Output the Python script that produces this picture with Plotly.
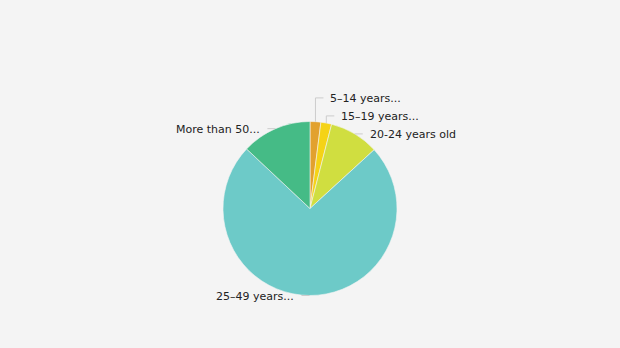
import math
import plotly.graph_objects as go

labels = ["5–14 years...", "15–19 years...", "20-24 years old", "25–49 years...", "More than 50..."]
values = [2.0, 2.0, 9.2, 73.8, 13.0]
colors = ["#E2A12E", "#F5D316", "#D0DE40", "#6DCAC8", "#45BB86"]

W, H = 620, 348
cx, cy, r = 310, 208.5, 87
LINE_COLOR = "#cccccc"
TEXT_COLOR = "#222222"
FONT = dict(family="DejaVu Sans", size=11, color=TEXT_COLOR)

fig = go.Figure(go.Pie(
    labels=labels, values=values, sort=False, direction="clockwise", rotation=0,
    marker=dict(colors=colors, line=dict(color="#f4f4f4", width=0.6)),
    textinfo="none", hoverinfo="label+value", showlegend=False,
    domain=dict(x=[(cx - r) / W, (cx + r) / W], y=[(H - cy - r) / H, (H - cy + r) / H]),
))

# label placement derived from slice mid-angles (outside labels with leader lines)
total = sum(values)
items = []
acc = 0.0
for lab, v in zip(labels, values):
    mid = (acc + v / 2) / total * 2 * math.pi
    acc += v
    ex = cx + r * math.sin(mid)
    ey = cy - r * math.cos(mid)
    side = 1 if math.sin(mid) > 0.02 else -1
    items.append(dict(label=lab, ex=ex, ey=ey, side=side, ly=ey))

# simple collision avoidance per side (push upward)
gap = 18
for side in (1, -1):
    grp = sorted([it for it in items if it["side"] == side], key=lambda d: -d["ey"])
    for i in range(1, len(grp)):
        if grp[i]["ly"] > grp[i - 1]["ly"] - gap:
            grp[i]["ly"] = grp[i - 1]["ly"] - gap

def px(x):
    return x / W

def py(y):
    return 1 - y / H

shapes = []
annotations = []
for it in items:
    s = it["side"]
    ex, ey, ly = it["ex"], it["ey"], it["ly"]
    hx = ex + s * 8
    path = f"M {px(ex)} {py(ey)} L {px(ex)} {py(ly)} L {px(hx)} {py(ly)}"
    shapes.append(dict(type="path", path=path, xref="paper", yref="paper",
                       line=dict(color=LINE_COLOR, width=1)))
    annotations.append(dict(text=it["label"], x=px(hx + s * 5), y=py(ly + 1), xref="paper", yref="paper",
                            xanchor="left" if s > 0 else "right", yanchor="middle",
                            showarrow=False, font=FONT))

fig.update_layout(width=W, height=H, margin=dict(l=0, r=0, t=0, b=0),
                  paper_bgcolor="#f4f4f4", plot_bgcolor="#f4f4f4",
                  shapes=shapes, annotations=annotations)
fig.write_html("out.html")
